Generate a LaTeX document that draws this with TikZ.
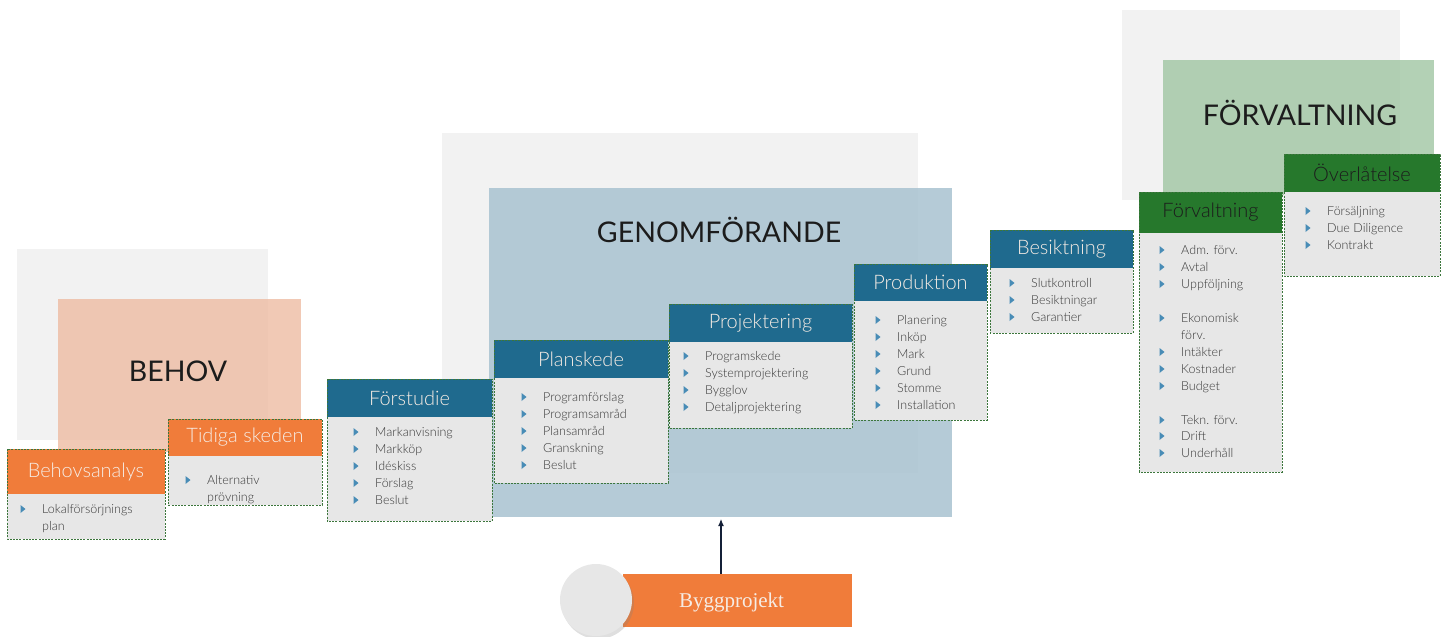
\documentclass[tikz,border=0pt]{standalone}
\usepackage{fontspec}
\setmainfont{Lato}
\newfontfamily\tunnfont{Lato Light}
\newfontfamily\byggfont{Liberation Serif}
\usetikzlibrary{arrows.meta,shadows}

\definecolor{orangehuvud}{RGB}{240,124,58}
\definecolor{blahuvud}{RGB}{31,106,142}
\definecolor{gronhuvud}{RGB}{38,120,44}
\definecolor{ljusgra}{RGB}{242,242,242}
\definecolor{kroppgra}{RGB}{231,231,231}
\definecolor{laxrosa}{RGB}{238,188,162}
\definecolor{blagra}{RGB}{168,194,208}
\definecolor{gronljus}{RGB}{160,198,162}
\definecolor{punktbla}{RGB}{72,140,182}
\definecolor{streckgron}{RGB}{60,118,60}
\definecolor{textgra}{RGB}{56,56,56}
\definecolor{rubrikgra}{RGB}{28,28,28}
\definecolor{ljustext}{RGB}{246,236,228}
\definecolor{mork}{RGB}{20,32,56}

% fasruta: namn, vänster x, topp y, höger x, rubrikens underkant, rutans underkant, färg, textfärg, rubrik
\newcommand{\fas}[9]{%
  \fill[kroppgra] (#2,#3) rectangle (#4,#6);
  \node[huvud, fill=#7, text=#8, minimum width={#4-#2}, minimum height={#5-#3}]
    (#1) at ({(#2+#4)/2},{(#3+#5)/2}) {#9};
  \draw[streckram] (#2,#3) rectangle (#4,#6);
}
\newcommand{\punkt}[2]{\fill[punktbla] (#1-2.5,#2-4) -- (#1+2.5,#2) -- (#1-2.5,#2+4) -- cycle;}
% punkter: namn, punktens x, första radens y, lista
\newcommand{\punkter}[4]{%
  \foreach \t [count=\i] in {#4} {
    \punkt{#2}{#3+17*\i-17}
    \node[punkttext] (#1-\i) at (#2+19,#3+17*\i-17+4) {\t};
  }
}

\begin{document}
\begin{tikzpicture}[x=1pt,y=-1pt,
  huvud/.style={inner sep=0pt, font=\tunnfont\fontsize{20}{23}\selectfont},
  punkttext/.style={anchor=base west, inner sep=0pt, text=textgra, font=\tunnfont\fontsize{12.5}{14}\selectfont},
  rubrik/.style={inner sep=0pt, text=rubrikgra, font=\fontsize{28.5}{32}\selectfont},
  streckram/.style={draw=streckgron, line width=0.7pt, dash pattern=on 2pt off 1.2pt},
  pilstil/.style={draw=mork, line width=1.1pt, -{Latex[length=7pt,width=6pt]}}]
\useasboundingbox (0,0) rectangle (1448,637);

% områden
\fill[ljusgra] (17,249) rectangle (268,440);
\fill[laxrosa, fill opacity=0.8] (58,299) rectangle (301,452);
\node[rubrik] (behov) at (178,371) {BEHOV};

\fill[ljusgra] (442,133) rectangle (918,473);
\node[inner sep=0pt, fill=blagra, fill opacity=0.85, minimum width=463, minimum height=329]
  (genomforande) at (720.5,352.5) {};
\node[rubrik] (genomrubrik) at (719,230) {GENOMFÖRANDE};

\fill[ljusgra] (1122,10) rectangle (1400,200);
\fill[gronljus, fill opacity=0.8] (1163,60) rectangle (1434,195);
\node[rubrik] (forvaltningomr) at (1300,113) {FÖRVALTNING};

% faser
\fas{behovsanalys}{7}{449}{165}{494}{539}{orangehuvud}{ljustext}{Behovsanalys}
\punkt{23}{509}
\node[punkttext] (behovsanalys-1) at (42,513) {Lokalförsörjnings};
\node[punkttext] (behovsanalys-2) at (42,530) {plan};

\fas{tidiga}{168}{419}{322}{456}{505}{orangehuvud}{ljustext}{Tidiga skeden}
\punkt{188}{480}
\node[punkttext] (tidiga-1) at (207,484) {Alternativ};
\node[punkttext] (tidiga-2) at (207,501) {prövning};

\fas{forstudie}{327}{379}{492}{417}{521}{blahuvud}{ljustext}{Förstudie}
\punkter{forstudie}{356}{432}{Markanvisning, Markköp, Idéskiss, Förslag, Beslut}

\fas{planskede}{494}{340}{668}{378}{483}{blahuvud}{ljustext}{Planskede}
\punkter{planskede}{524}{397}{Programförslag, Programsamråd, Plansamråd, Granskning, Beslut}

\fas{projektering}{669}{304}{852}{342}{428}{blahuvud}{ljustext}{Projektering}
\punkter{projektering}{686}{356}{Programskede, Systemprojektering, Bygglov, Detaljprojektering}

\fas{produktion}{854}{264}{987}{301}{420}{blahuvud}{ljustext}{Produktion}
\punkter{produktion}{878}{320}{Planering, Inköp, Mark, Grund, Stomme, Installation}

\fas{besiktning}{990}{230}{1133}{268}{333}{blahuvud}{ljustext}{Besiktning}
\punkter{besiktning}{1012}{283}{Slutkontroll, Besiktningar, Garantier}

\fas{forvaltning}{1139}{192}{1282}{233}{472}{gronhuvud}{rubrikgra}{Förvaltning}
\foreach \y/\t [count=\i] in {250/Adm. förv., 267/Avtal, 284/Uppföljning, 318/Ekonomisk,
    352/Intäkter, 369/Kostnader, 386/Budget, 420/Tekn. förv., 436/Drift, 453/Underhåll} {
  \punkt{1162}{\y}
  \node[punkttext] (forvaltning-\i) at (1181,\y+4) {\t};
}
\node[punkttext] (forvaltning-ek) at (1181,339) {förv.};

\fas{overlatelse}{1284}{154}{1440}{192}{276}{gronhuvud}{rubrikgra}{Överlåtelse}
\punkter{overlatelse}{1308}{211}{Försäljning, Due Diligence, Kontrakt}

% byggprojekt
\node[inner sep=0pt, fill=orangehuvud, minimum width=229, minimum height=53,
  text=ljustext, font=\byggfont\fontsize{21}{24}\selectfont, text depth=0pt]
  (byggprojekt) at (737.5,600.5) {\hspace{-12pt}Byggprojekt};
\node[circle, fill=kroppgra, minimum size=72, inner sep=0pt,
  drop shadow={opacity=0.25, shadow xshift=2pt, shadow yshift=-3pt}]
  (byggcirkel) at (596,600) {};
\coordinate (pilspets) at (721,519);
\draw[pilstil] (byggprojekt.north -| pilspets) -- (pilspets);
\end{tikzpicture}
\end{document}
